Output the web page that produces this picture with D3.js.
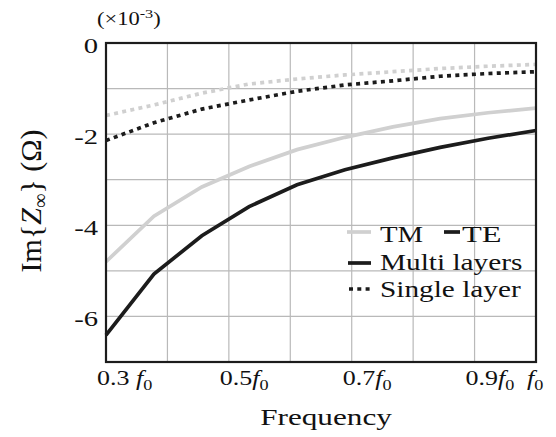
<!DOCTYPE html>
<html><head><meta charset="utf-8">
<script src="https://cdn.jsdelivr.net/npm/d3@7"></script>
<style>body{margin:0;background:#fff}svg{display:block}text{font-family:"Liberation Serif","Times New Roman",serif;fill:#111}</style>
</head><body><svg id="c" width="556" height="437"></svg>
<script>
const freq = [0.3, 0.378, 0.456, 0.533, 0.611, 0.689, 0.767, 0.844, 0.922, 1.0];
const tmMulti  = [-4.80, -3.80, -3.16, -2.71, -2.34, -2.07, -1.84, -1.66, -1.53, -1.43];
const teMulti  = [-6.41, -5.07, -4.23, -3.59, -3.11, -2.78, -2.52, -2.29, -2.09, -1.92];
const tmSingle = [-1.59, -1.36, -1.10, -0.90, -0.79, -0.70, -0.63, -0.56, -0.51, -0.47];
const teSingle = [-2.14, -1.75, -1.45, -1.25, -1.06, -0.92, -0.83, -0.73, -0.67, -0.63];
const xGrid = [0.3, 0.4, 0.5, 0.6, 0.7, 0.8, 0.9, 1.0];
const yGrid = [0, -1, -2, -3, -4, -5, -6, -7];
const xTickVals = [0.3, 0.5, 0.7, 0.9, 1.0];
const xTickNums = ["0.3 ", "0.5", "0.7", "0.9", ""];
const yTickVals = [0, -2, -4, -6];

const GRAY = "#d0d0d0", BLACK = "#1c1c1c";
const svg = d3.select("#c");
const L = 106, R = 536, T = 43, B = 362;
const x = d3.scaleLinear().domain([0.3, 1.0]).range([L, R]);
const y = d3.scaleLinear().domain([-7, 0]).range([B, T]);

// grid
svg.append("g").selectAll("line").data(xGrid).join("line")
  .attr("x1", d => x(d)).attr("x2", d => x(d)).attr("y1", T).attr("y2", B)
  .attr("stroke", "#b9b9b9").attr("stroke-width", 1.2);
svg.append("g").selectAll("line").data(yGrid).join("line")
  .attr("y1", d => y(d)).attr("y2", d => y(d)).attr("x1", L).attr("x2", R)
  .attr("stroke", "#b9b9b9").attr("stroke-width", 1.2);

// series
const series = [
  {v: tmSingle, c: GRAY, dash: "4,4.3"},
  {v: teSingle, c: BLACK, dash: "4,4.3"},
  {v: tmMulti, c: GRAY, dash: null},
  {v: teMulti, c: BLACK, dash: null}
];
const line = d3.line().x(d => x(d[0])).y(d => y(d[1]));
series.forEach(s => {
  svg.append("path").datum(freq.map((f, i) => [f, s.v[i]]))
    .attr("d", line).attr("fill", "none").attr("stroke", s.c)
    .attr("stroke-width", 3.7).attr("stroke-dasharray", s.dash);
});

// frame
svg.append("rect").attr("x", L).attr("y", T).attr("width", R - L).attr("height", B - T)
  .attr("fill", "none").attr("stroke", BLACK).attr("stroke-width", 2.2);

// x tick labels
const SX = 1.3;
xTickVals.forEach((v, i) => {
  const t = svg.append("text").attr("transform", `translate(${x(v) - 9},385) scale(${SX},1)`)
    .style("font-size", "20px");
  t.append("tspan").text(xTickNums[i]);
  t.append("tspan").attr("font-style", "italic").text("f");
  t.append("tspan").attr("dy", 5).style("font-size", "14px").text("0");
});
// y tick labels
yTickVals.forEach(v => {
  svg.append("text").attr("transform", `translate(98,${y(v) + 10}) scale(${SX},1)`)
    .attr("text-anchor", "end").style("font-size", "22px").text(v === 0 ? "0" : String(v));
});
// multiplier
const m = svg.append("text").attr("transform", "translate(97,25) scale(1.25,1)").style("font-size", "18px");
m.append("tspan").text("(×10");
m.append("tspan").attr("dy", -7).style("font-size", "13px").text("-3");
m.append("tspan").attr("dy", 7).text(")");

// axis titles
svg.append("text").attr("transform", "translate(326,425) scale(1.3,1)").attr("text-anchor", "middle")
  .style("font-size", "24px").text("Frequency");
const yl = svg.append("text").attr("transform", "translate(41,201) rotate(-90)").attr("text-anchor", "middle")
  .style("font-size", "30px");
yl.append("tspan").text("Im{");
yl.append("tspan").attr("font-style", "italic").text("Z");
yl.append("tspan").attr("dy", 6).style("font-size", "20px").text("∞");
yl.append("tspan").attr("dy", -6).text("} (Ω)");

// legend
const legend = [
  {x1: 347, x2: 371, y: 232, c: GRAY, dash: null, tx: 380, ty: 242, sx: 1.2, label: "TM"},
  {x1: 444, x2: 460, y: 232, c: BLACK, dash: null, tx: 462, ty: 242, sx: 1.35, label: "TE"},
  {x1: 348, x2: 371, y: 263, c: BLACK, dash: null, tx: 380, ty: 270, sx: 1.22, label: "Multi layers"},
  {x1: 349, x2: 371, y: 289, c: BLACK, dash: "4,4.3", tx: 380, ty: 297, sx: 1.22, label: "Single layer"}
];
legend.forEach(d => {
  svg.append("line").attr("x1", d.x1).attr("x2", d.x2).attr("y1", d.y).attr("y2", d.y)
    .attr("stroke", d.c).attr("stroke-width", 3.7).attr("stroke-dasharray", d.dash);
  svg.append("text").attr("transform", `translate(${d.tx},${d.ty}) scale(${d.sx},1)`)
    .style("font-size", "24px").text(d.label);
});
</script></body></html>
